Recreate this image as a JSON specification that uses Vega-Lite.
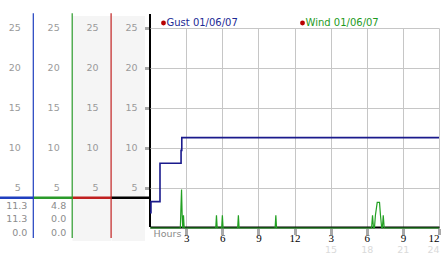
{
  "$schema": "https://vega.github.io/schema/vega-lite/v6.json",
  "padding": {"left": 0, "top": 12, "right": 0, "bottom": 0},
  "spacing": 0,
  "bounds": "flush",
  "config": {"view": {"stroke": null}, "font": "DejaVu Sans", "scale": {"continuousPadding": 0}},
  "datasets": {
    "cols": [
      {"col": 1, "name": "Gust", "color": "#1f3fbf", "readout": ["11.3", "11.3", "0.0"]},
      {"col": 2, "name": "Wind", "color": "#2a9a2a", "readout": ["4.8", "0.0", "0.0"]},
      {"col": 3, "name": "c3", "color": "#c02020", "readout": []},
      {"col": 4, "name": "c4", "color": "#000000", "readout": []}
    ],
    "yticks": [
      {"col": 1, "v": 5}, {"col": 1, "v": 10}, {"col": 1, "v": 15}, {"col": 1, "v": 20}, {"col": 1, "v": 25},
      {"col": 2, "v": 5}, {"col": 2, "v": 10}, {"col": 2, "v": 15}, {"col": 2, "v": 20}, {"col": 2, "v": 25},
      {"col": 3, "v": 5}, {"col": 3, "v": 10}, {"col": 3, "v": 15}, {"col": 3, "v": 20}, {"col": 3, "v": 25},
      {"col": 4, "v": 5}, {"col": 4, "v": 10}, {"col": 4, "v": 15}, {"col": 4, "v": 20}, {"col": 4, "v": 25}
    ],
    "gust": [
      {"h": 0, "v": 1.9, "series": "Gust 01/06/07"},
      {"h": 0.08, "v": 3.3, "series": "Gust 01/06/07"},
      {"h": 0.83, "v": 8.1, "series": "Gust 01/06/07"},
      {"h": 2.58, "v": 9.7, "series": "Gust 01/06/07"},
      {"h": 2.64, "v": 11.3, "series": "Gust 01/06/07"},
      {"h": 24, "v": 11.3, "series": "Gust 01/06/07"}
    ],
    "wind": [
      {"h": 0, "v": 0, "series": "Wind 01/06/07"},
      {"h": 2.52, "v": 0, "series": "Wind 01/06/07"},
      {"h": 2.57, "v": 2.6, "series": "Wind 01/06/07"},
      {"h": 2.62, "v": 4.8, "series": "Wind 01/06/07"},
      {"h": 2.67, "v": 1.6, "series": "Wind 01/06/07"},
      {"h": 2.72, "v": 0, "series": "Wind 01/06/07"},
      {"h": 2.78, "v": 1.6, "series": "Wind 01/06/07"},
      {"h": 2.84, "v": 0, "series": "Wind 01/06/07"},
      {"h": 5.46, "v": 0, "series": "Wind 01/06/07"},
      {"h": 5.52, "v": 1.6, "series": "Wind 01/06/07"},
      {"h": 5.58, "v": 0, "series": "Wind 01/06/07"},
      {"h": 5.95, "v": 0, "series": "Wind 01/06/07"},
      {"h": 6.01, "v": 1.6, "series": "Wind 01/06/07"},
      {"h": 6.07, "v": 0, "series": "Wind 01/06/07"},
      {"h": 7.28, "v": 0, "series": "Wind 01/06/07"},
      {"h": 7.34, "v": 1.6, "series": "Wind 01/06/07"},
      {"h": 7.4, "v": 0, "series": "Wind 01/06/07"},
      {"h": 10.39, "v": 0, "series": "Wind 01/06/07"},
      {"h": 10.45, "v": 1.6, "series": "Wind 01/06/07"},
      {"h": 10.51, "v": 0, "series": "Wind 01/06/07"},
      {"h": 18.4, "v": 0, "series": "Wind 01/06/07"},
      {"h": 18.48, "v": 1.6, "series": "Wind 01/06/07"},
      {"h": 18.56, "v": 0, "series": "Wind 01/06/07"},
      {"h": 18.64, "v": 0, "series": "Wind 01/06/07"},
      {"h": 18.72, "v": 1.6, "series": "Wind 01/06/07"},
      {"h": 18.87, "v": 3.2, "series": "Wind 01/06/07"},
      {"h": 19.06, "v": 3.2, "series": "Wind 01/06/07"},
      {"h": 19.14, "v": 1.6, "series": "Wind 01/06/07"},
      {"h": 19.24, "v": 0, "series": "Wind 01/06/07"},
      {"h": 19.3, "v": 0, "series": "Wind 01/06/07"},
      {"h": 19.37, "v": 1.6, "series": "Wind 01/06/07"},
      {"h": 19.45, "v": 0, "series": "Wind 01/06/07"},
      {"h": 24, "v": 0, "series": "Wind 01/06/07"}
    ]
  },
  "hconcat": [
    {
      "width": 150,
      "height": 200,
      "layer": [
        {
          "data": {"name": "cols"},
          "transform": [{"filter": "datum.col == 3"}],
          "mark": {"type": "bar", "width": 38.6, "xOffset": -19.3, "color": "#f5f5f5"},
          "encoding": {
            "x": {"field": "col", "type": "quantitative", "scale": {"domain": [0.144, 4], "nice": false, "zero": false, "padding": 0}, "axis": null},
            "y": {"datum": 26.5, "type": "quantitative", "scale": {"domain": [0, 25], "nice": false, "zero": false, "padding": 0}, "axis": null},
            "y2": {"datum": -1.625}
          }
        },
        {
          "data": {"name": "cols"},
          "transform": [{"filter": "datum.col == 4"}],
          "mark": {"type": "bar", "width": 33.3, "xOffset": -21.65, "color": "#f5f5f5"},
          "encoding": {
            "x": {"field": "col", "type": "quantitative", "scale": {"domain": [0.144, 4], "nice": false, "zero": false, "padding": 0}, "axis": null},
            "y": {"datum": 26.5, "type": "quantitative", "scale": {"domain": [0, 25], "nice": false, "zero": false, "padding": 0}, "axis": null},
            "y2": {"datum": -1.625}
          }
        },
        {
          "data": {"name": "cols"},
          "mark": {"type": "bar", "width": 38.9, "xOffset": -19.45, "clip": true},
          "encoding": {
            "x": {"field": "col", "type": "quantitative", "scale": {"domain": [0.144, 4], "nice": false, "zero": false, "padding": 0}, "axis": null},
            "y": {"datum": 3.94, "type": "quantitative", "scale": {"domain": [0, 25], "nice": false, "zero": false, "padding": 0}, "axis": null},
            "y2": {"datum": 3.64},
            "color": {"field": "color", "type": "nominal", "scale": null}
          }
        },
        {
          "data": {"name": "cols"},
          "transform": [{"filter": "datum.col <= 3"}],
          "mark": {"type": "rule", "strokeWidth": 1.2},
          "encoding": {
            "x": {"field": "col", "type": "quantitative", "scale": {"domain": [0.144, 4], "nice": false, "zero": false, "padding": 0}, "axis": null},
            "y": {"datum": 26.84, "type": "quantitative", "scale": {"domain": [0, 25], "nice": false, "zero": false, "padding": 0}, "axis": null},
            "y2": {"datum": -1.25},
            "color": {"field": "color", "type": "nominal", "scale": null}
          }
        },
        {
          "data": {"name": "cols"},
          "transform": [{"filter": "datum.col == 4"}],
          "mark": {"type": "rule", "strokeWidth": 2},
          "encoding": {
            "x": {"field": "col", "type": "quantitative", "scale": {"domain": [0.144, 4], "nice": false, "zero": false, "padding": 0}, "axis": null},
            "y": {"datum": 26.75, "type": "quantitative", "scale": {"domain": [0, 25], "nice": false, "zero": false, "padding": 0}, "axis": null},
            "y2": {"datum": 0.12},
            "color": {"field": "color", "type": "nominal", "scale": null}
          }
        },
        {
          "data": {"name": "yticks"},
          "mark": {"type": "text", "align": "right", "baseline": "middle", "dx": -12.5, "fontSize": 9.5, "color": "#9a9a9a"},
          "encoding": {
            "x": {"field": "col", "type": "quantitative", "scale": {"domain": [0.144, 4], "nice": false, "zero": false, "padding": 0}, "axis": null},
            "y": {"field": "v", "type": "quantitative", "scale": {"domain": [0, 25], "nice": false, "zero": false, "padding": 0}, "axis": null},
            "text": {"field": "v", "type": "quantitative"}
          }
        },
        {
          "data": {"name": "cols"},
          "transform": [{"filter": "datum.col <= 2"}],
          "mark": {"type": "text", "align": "right", "baseline": "top", "dx": -6, "dy": 3, "lineHeight": 13.8, "fontSize": 9.5, "color": "#8c8c8c"},
          "encoding": {
            "x": {"field": "col", "type": "quantitative", "scale": {"domain": [0.144, 4], "nice": false, "zero": false, "padding": 0}, "axis": null},
            "y": {"datum": 3.79, "type": "quantitative", "scale": {"domain": [0, 25], "nice": false, "zero": false, "padding": 0}, "axis": null},
            "text": {"field": "readout", "type": "nominal"}
          }
        }
      ]
    },
    {
      "width": 289,
      "height": 200,
      "layer": [
        {
          "data": {"name": "gust"},
          "mark": {"type": "line", "interpolate": "step-after", "strokeWidth": 1.6},
          "encoding": {
            "x": {
              "field": "h", "type": "quantitative",
              "scale": {"domain": [0, 24], "nice": false, "zero": false, "padding": 0},
              "axis": {
                "orient": "bottom", "values": [3, 6, 9, 12, 15, 18, 21, 24],
                "grid": true, "gridColor": "#c6c6c6", "gridOpacity": 1, "gridWidth": 1,
                "domain": true, "domainColor": "#000000", "domainWidth": 2, "offset": -1,
                "ticks": true, "tickSize": 7, "tickWidth": 3, "tickColor": "#555555", "tickDash": [0, 2, 1, 1, 1, 1, 1, 1],
                "labelExpr": "datum.value > 12 ? datum.value - 12 : datum.value",
                "labelFont": "Liberation Sans Narrow", "labelFontSize": 11, "labelColor": "#000000", "labelPadding": -2,
                "labelOverlap": false, "labelFlush": true,
                "title": "Hours", "titleX": 3, "titleY": 6, "titleAlign": "left", "titleBaseline": "middle",
                "titleFontSize": 9.5, "titleFontWeight": "normal", "titleColor": "#8a8a8a", "titleFont": "DejaVu Sans"
              }
            },
            "y": {
              "field": "v", "type": "quantitative",
              "scale": {"domain": [0, 25], "nice": false, "zero": false, "padding": 0},
              "axis": {
                "orient": "left", "values": [5, 10, 15, 20, 25],
                "grid": true, "gridColor": "#c6c6c6", "gridOpacity": 1, "gridWidth": 1,
                "domain": false, "labels": false,
                "ticks": true, "tickSize": 5, "tickWidth": 3, "tickColor": "#555555", "tickDash": [0, 2, 1, 1, 1],
                "title": null
              }
            },
            "color": {
              "field": "series", "type": "nominal",
              "scale": {"domain": ["Gust 01/06/07", "Wind 01/06/07"], "range": ["#1a1a8c", "#22a022"]},
              "legend": {
                "title": null, "orient": "none", "legendX": 158.5, "legendY": -10,
                "direction": "horizontal", "columns": 2, "columnPadding": 59,
                "symbolType": "circle", "symbolSize": 24, "symbolStrokeWidth": 0, "labelFontSize": 10, "labelFont": "DejaVu Sans",
                "labelOffset": -2, "padding": 0, "offset": 0,
                "encode": {
                  "symbols": {"update": {"fill": {"value": "#b80000"}, "stroke": {"value": "#600000"}, "strokeWidth": {"value": 0}, "fillOpacity": {"value": 1}, "opacity": {"value": 1}}},
                  "labels": {"update": {"fill": {"signal": "datum.label === 'Gust 01/06/07' ? '#1c2a95' : '#1e9a1e'"}}}
                }
              }
            }
          }
        },
        {
          "data": {"name": "wind"},
          "mark": {"type": "line", "strokeWidth": 1.2},
          "encoding": {
            "x": {
              "field": "h", "type": "quantitative",
              "scale": {"domain": [0, 24], "nice": false, "zero": false, "padding": 0},
              "axis": {
                "orient": "bottom", "values": [15, 18, 21, 24],
                "grid": false, "domain": false, "ticks": false, "offset": -1,
                "labelExpr": "datum.value",
                "labelFont": "DejaVu Sans", "labelFontSize": 9.5, "labelColor": "#dadada", "labelPadding": 17,
                "labelDx": -3, "labelOverlap": false, "labelFlush": true,
                "title": null
              }
            },
            "y": {
              "field": "v", "type": "quantitative",
              "scale": {"domain": [0, 25], "nice": false, "zero": false, "padding": 0}
            },
            "color": {"field": "series", "type": "nominal"}
          }
        }
      ],
      "resolve": {"axis": {"x": "independent"}}
    }
  ]
}
